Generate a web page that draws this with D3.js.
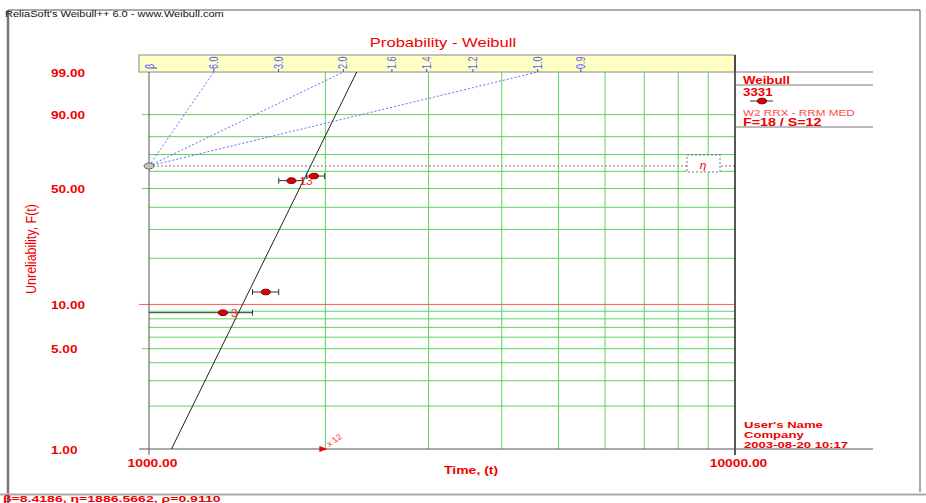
<!DOCTYPE html>
<html>
<head>
<meta charset="utf-8">
<script src="https://cdn.jsdelivr.net/npm/d3@7"></script>
<style>
  html, body { margin: 0; padding: 0; background: #fff; }
  svg { display: block; font-family: "Liberation Sans", Arial, sans-serif; }
</style>
</head>
<body>
<svg id="chart" width="926" height="503"></svg>
<script>
// Weibull probability plot data
const timeTicks = [1000, 10000];
const timeGrid = [2000, 3000, 4000, 5000, 6000, 7000, 8000, 9000];
const probTicks = [1, 5, 10, 50, 90, 99];            // percent, labelled
const probGrid = [2, 3, 4, 5, 6, 7, 8, 9, 20, 30, 40, 50, 60, 70, 80, 90];
const probHighlight = 10;
const betaMarks = [6.0, 3.0, 2.0, 1.6, 1.4, 1.2, 1.0, 0.9];
const betaGuides = [6.0, 2.0, 1.0];

// interval failures: plotted time, unreliability (%), interval ends
const failTimes = [1750, 1912, 1582, 1337];
const failUnrel = [54.5, 57.2, 12.1, 8.8];
const failLow = [1665, 1858, 1502, 1000];
const failHigh = [1829, 1994, 1665, 1502];
const failLabels = ["13", "", "", "3"];

// suspensions
const suspTimes = [2000];
const suspCounts = [12];

// fitted parameters
const beta = 8.4186, eta = 1886.5662, rho = 0.9110;

const RED = "#f00000";
const GRID = "#5fd35f";
const SX = 1.33; // horizontal text stretch

const svg = d3.select("#chart");

// Weibull linearisation of unreliability (percent)
const wt = p => Math.log(-Math.log(1 - p / 100));
const wtInv = z => (1 - Math.exp(-Math.exp(z))) * 100;

const x = d3.scaleLog().domain([1000, 10000]).range([149, 735]);
const y = d3.scaleLinear().domain([wt(1), wt(99)]).range([449, 72]);
const yp = p => y(wt(p));

const L = x.range()[0], R = x.range()[1];
const T = y.range()[1], B = y.range()[0];

function label(g, px, py, str, o = {}) {
  const r = o.rotate ? ` rotate(${o.rotate})` : "";
  return g.append("text")
    .attr("transform", `translate(${px},${py}) scale(${o.sx || SX},1)${r}`)
    .attr("font-size", o.size || 10)
    .attr("font-weight", o.weight || "normal")
    .attr("font-style", o.style || "normal")
    .attr("text-anchor", o.anchor || "start")
    .attr("fill", o.fill || RED)
    .text(str);
}

// ---- outer frame ----
const frame = svg.append("g");
frame.append("line").attr("x1", 8).attr("x2", 920).attr("y1", 10).attr("y2", 10).attr("stroke", "#555");
frame.append("line").attr("x1", 8).attr("x2", 8).attr("y1", 10).attr("y2", 503).attr("stroke", "#777").attr("stroke-width", 2.5);
frame.append("line").attr("x1", 920).attr("x2", 920).attr("y1", 10).attr("y2", 492).attr("stroke", "#555");
frame.append("line").attr("x1", 0).attr("x2", 926).attr("y1", 494.5).attr("y2", 494.5).attr("stroke", "#aaa").attr("stroke-width", 2);

label(svg, 5, 17, "ReliaSoft's Weibull++ 6.0 - www.Weibull.com", { size: 8.5, fill: "#111", sx: 1.3 });
label(svg, 443, 47, "Probability - Weibull", { size: 12.5, anchor: "middle" });

// ---- grid ----
const grid = svg.append("g");
grid.selectAll(".vg").data(timeGrid).join("line")
  .attr("x1", d => x(d)).attr("x2", d => x(d)).attr("y1", T).attr("y2", B)
  .attr("stroke", GRID);
grid.selectAll(".hg").data(probGrid).join("line")
  .attr("x1", d => probTicks.includes(d) ? L - 7 : L).attr("x2", R)
  .attr("y1", d => yp(d)).attr("y2", d => yp(d))
  .attr("stroke", GRID);
grid.append("line")
  .attr("x1", L - 10).attr("x2", R).attr("y1", yp(probHighlight)).attr("y2", yp(probHighlight))
  .attr("stroke", "#ff5a5a");

// characteristic-life line (63.2%)
const zEta = 0;
grid.append("line")
  .attr("x1", L).attr("x2", R).attr("y1", y(zEta)).attr("y2", y(zEta))
  .attr("stroke", "#a8a8a8").attr("stroke-width", 1.6).attr("stroke-dasharray", "2,2");

// ---- beta scale band ----
const band = svg.append("g");
band.append("rect").attr("x", L - 10).attr("y", 55).attr("width", R - L + 10).attr("height", T - 55)
  .attr("fill", "#ffffc4").attr("stroke", "#888");
label(band, L + 5, 69, "\u03b2", { size: 9, fill: "#5050ff", rotate: -90 });
const tBeta = b => x.domain()[0] * Math.exp(wt(99) / b);
band.selectAll(".bt").data(betaMarks).join("line")
  .attr("x1", d => x(tBeta(d))).attr("x2", d => x(tBeta(d)))
  .attr("y1", T - 3).attr("y2", T)
  .attr("stroke", "#4040ff");
betaMarks.forEach(b => {
  label(band, x(tBeta(b)) + 4, T - 3, b.toFixed(1), { size: 9, fill: "#5a5aff", rotate: -90 });
});
svg.append("g").selectAll("line").data(betaGuides).join("line")
  .attr("x1", x(x.domain()[0])).attr("y1", y(zEta))
  .attr("x2", d => x(tBeta(d))).attr("y2", T)
  .attr("stroke", "#6a6aff").attr("stroke-dasharray", "2,2");

// ---- axes frame ----
const axes = svg.append("g");
axes.append("line").attr("x1", L).attr("x2", L).attr("y1", T).attr("y2", B + 6).attr("stroke", "#555");
axes.append("line").attr("x1", R).attr("x2", R).attr("y1", 55).attr("y2", B + 6).attr("stroke", "#222").attr("stroke-width", 1.5);
axes.append("line").attr("x1", L - 10).attr("x2", 873).attr("y1", B).attr("y2", B).attr("stroke", "#555");
[T, 85, 127].forEach(v => {
  axes.append("line").attr("x1", R).attr("x2", 873).attr("y1", v).attr("y2", v).attr("stroke", "#777");
});

// y tick labels
const yAxis = d3.axisLeft(y).tickValues(probTicks.map(wt)).tickSize(0)
  .tickFormat(z => wtInv(z).toFixed(2));
const yg = svg.append("g").attr("transform", `translate(${L},0)`).call(yAxis);
yg.select(".domain").remove();
yg.selectAll(".tick text").each(function () {
  const t = d3.select(this);
  t.attr("x", null).attr("dy", null).attr("y", null)
    .attr("transform", `translate(${51 - L},4) scale(${SX + 0.03},1)`)
    .attr("text-anchor", "start").attr("fill", RED)
    .attr("font-size", 10).attr("font-weight", "bold").attr("font-family", null);
});

// x tick labels
const xAxis = d3.axisBottom(x).tickValues(timeTicks).tickSize(0).tickFormat(d3.format(".2f"));
const xg = svg.append("g").attr("transform", `translate(0,${B})`).call(xAxis);
xg.select(".domain").remove();
xg.selectAll(".tick text").each(function () {
  d3.select(this).attr("y", null).attr("dy", null)
    .attr("transform", `translate(3,18) scale(${SX + 0.05},1)`)
    .attr("text-anchor", "middle").attr("fill", RED)
    .attr("font-size", 10).attr("font-weight", "bold").attr("font-family", null);
});

label(svg, 444, 474, "Time, (t)", { size: 10, weight: "bold", sx: 1.4 });
label(svg, 36, 249, "Unreliability, F(t)", { size: 12.5, anchor: "middle", rotate: -90, sx: 1.1 });

// ---- fitted Weibull line ----
const lineClip = svg.append("clipPath").attr("id", "plotClip");
lineClip.append("rect").attr("x", L).attr("y", T).attr("width", R - L).attr("height", B - T);
const tAt = p => eta * Math.pow(-Math.log(1 - p / 100), 1 / beta);
svg.append("line")
  .attr("clip-path", "url(#plotClip)")
  .attr("x1", x(tAt(1))).attr("y1", yp(1))
  .attr("x2", x(tAt(99))).attr("y2", yp(99))
  .attr("stroke", "#222");

// ---- data points with intervals ----
const pts = svg.append("g");
failTimes.forEach((t, i) => {
  const py = yp(failUnrel[i]);
  pts.append("line").attr("x1", x(failLow[i])).attr("x2", x(failHigh[i]))
    .attr("y1", py).attr("y2", py).attr("stroke", "#333");
  [failLow[i], failHigh[i]].forEach(e => {
    if (e > x.domain()[0]) {
      pts.append("line").attr("x1", x(e)).attr("x2", x(e))
        .attr("y1", py - 3).attr("y2", py + 3).attr("stroke", "#333");
    }
  });
  pts.append("ellipse").attr("cx", x(t)).attr("cy", py).attr("rx", 4.5).attr("ry", 2.8)
    .attr("fill", "#dd0000").attr("stroke", "#700");
  if (failLabels[i]) label(pts, x(t) + 8, py + 4, failLabels[i], { size: 10, sx: 1.2, fill: "#f22" });
});

// suspensions
suspTimes.forEach((t, i) => {
  const sx0 = x(t);
  pts.append("path")
    .attr("d", `M${sx0 - 6},${B - 3}L${sx0 + 2},${B}L${sx0 - 6},${B + 3}Z`)
    .attr("fill", "#ee0000");
  label(pts, sx0 + 4, B - 2, "x " + suspCounts[i], { size: 8, sx: 1.1, rotate: -38, fill: "#f33" });
});

// eta pivot and marker box
svg.append("ellipse").attr("cx", L).attr("cy", y(zEta)).attr("rx", 5).attr("ry", 3)
  .attr("fill", "#c4c4c4").attr("stroke", "#666");
svg.append("rect").attr("x", 687).attr("y", y(zEta) - 11).attr("width", 33).attr("height", 17)
  .attr("fill", "#fff").attr("stroke", "#777").attr("stroke-dasharray", "2,2");
label(svg, 703, y(zEta) + 3, "\u03b7", { size: 10, style: "italic", anchor: "middle", sx: 1.2 });

// ---- legend ----
const lg = svg.append("g");
label(lg, 743, 84, "Weibull", { size: 10, weight: "bold" });
label(lg, 743, 96, "3331", { size: 10, weight: "bold" });
lg.append("line").attr("x1", 750).attr("x2", 773).attr("y1", 101).attr("y2", 101).attr("stroke", "#333");
lg.append("ellipse").attr("cx", 762).attr("cy", 101).attr("rx", 4.5).attr("ry", 2.8)
  .attr("fill", "#dd0000").attr("stroke", "#700");
label(lg, 743, 116, "W2 RRX - RRM MED", { size: 9, sx: 1.3, fill: "#ff4a4a" });
label(lg, 743, 126, "F=18 / S=12", { size: 10.5, weight: "bold", sx: 1.36 });

label(lg, 744, 428, "User's Name", { size: 9.5, weight: "bold", sx: 1.38 });
label(lg, 744, 438, "Company", { size: 9.5, weight: "bold", sx: 1.38 });
label(lg, 744, 448, "2003-08-20 10:17", { size: 9.5, weight: "bold", sx: 1.38 });

label(svg, 3, 502,
  `\u03b2=${beta.toFixed(4)}, \u03b7=${eta.toFixed(4)}, \u03c1=${rho.toFixed(4)}`,
  { size: 9.5, weight: "bold", sx: 1.48 });
</script>
</body>
</html>
